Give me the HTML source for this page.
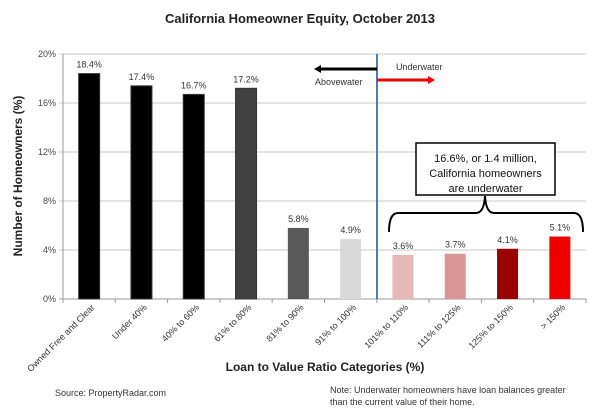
<!DOCTYPE html>
<html><head><meta charset="utf-8"><style>
body{margin:0;background:#fff}
svg{display:block;font-family:"Liberation Sans",sans-serif}
</style></head><body>
<svg id="c" width="600" height="408">
<text x="300" y="23" text-anchor="middle" font-size="13" font-weight="bold" fill="#222">California Homeowner Equity, October 2013</text>
<g id="grid"></g><g id="bars"></g><g id="xl"></g>
<text transform="translate(22,176) rotate(-90)" text-anchor="middle" font-size="12" font-weight="bold" fill="#222">Number of Homeowners (%)</text>
<text x="325" y="371" text-anchor="middle" font-size="12" font-weight="bold" fill="#222">Loan to Value Ratio Categories (%)</text>
<text x="55" y="396" font-size="9" fill="#333">Source: PropertyRadar.com</text>
<text x="330" y="393" font-size="9" fill="#333"><tspan x="330">Note: Underwater homeowners have loan balances greater</tspan><tspan x="330" dy="12">than the current value of their home.</tspan></text>
<line x1="377" y1="54" x2="377" y2="299" stroke="#4a7ebb" stroke-width="2"/>
<g><line x1="377" y1="69" x2="320" y2="69" stroke="#000" stroke-width="3"/><polygon points="314,69 321,65 321,73" fill="#000"/></g>
<text x="315" y="85" font-size="9" fill="#333">Abovewater</text>
<text x="396" y="70" font-size="9" fill="#333">Underwater</text>
<g><line x1="377" y1="80" x2="428" y2="80" stroke="#e00" stroke-width="3"/><polygon points="435,80 428,76 428,84" fill="#e00"/></g>
<rect x="416" y="143" width="139" height="52" fill="#fff" stroke="#000" stroke-width="1.5"/>
<text x="485.5" y="162" text-anchor="middle" font-size="11" fill="#111"><tspan x="485.5">16.6%, or 1.4 million,</tspan><tspan x="485.5" dy="15">California homeowners</tspan><tspan x="485.5" dy="15">are underwater</tspan></text>
<path d="M389,232 Q389,213 398,213 L476,213 Q484,213 485,196 Q486,213 494,213 L574,213 Q583,213 583,232" fill="none" stroke="#000" stroke-width="2"/>
</svg>
<script>
const categories=["Owned Free and Clear","Under 40%","40% to 60%","61% to 80%","81% to 90%","91% to 100%","101% to 110%","111% to 125%","125% to 150%","> 150%"];
const values=[18.4,17.4,16.7,17.2,5.8,4.9,3.6,3.7,4.1,5.1];
const valueLabels=["18.4%","17.4%","16.7%","17.2%","5.8%","4.9%","3.6%","3.7%","4.1%","5.1%"];
const yTicks=[0,4,8,12,16,20];
const yTickLabels=["0%","4%","8%","12%","16%","20%"];
const colors=["#000","#000","#000","#404040","#595959","#d9d9d9","#e6b9b8","#d99694","#990000","#ee0000"];
const NS="http://www.w3.org/2000/svg";
const L=63,R=586,T=54,B=299,yMax=20;
const y=v=>B-(v/yMax)*(B-T);
const bw=(R-L)/categories.length;
const xc=i=>L+bw*(i+0.5);
function mk(tag,at,parent){const e=document.createElementNS(NS,tag);for(const k in at)e.setAttribute(k,at[k]);document.getElementById(parent).appendChild(e);return e;}
yTicks.forEach((t,i)=>{
 const g=mk("line",{x1:L-4,x2:R,y1:y(t),y2:y(t),stroke:t===0?"#999":"#c8c8c8","stroke-width":1},"grid");
 
 
 const tx=mk("text",{x:L-7,y:y(t)+3,"text-anchor":"end","font-size":9,fill:"#444"},"grid");
 tx.textContent=yTickLabels[i];
 
 
});
mk("line",{x1:L,x2:L,y1:T,y2:B,stroke:"#999"},"grid");
for(let i=0;i<=categories.length;i++){mk("line",{x1:L+bw*i,x2:L+bw*i,y1:B,y2:B+4,stroke:"#999"},"grid");}
values.forEach((v,i)=>{
 const r=mk("rect",{x:xc(i)-10.5,y:y(v),width:21,height:B-y(v),fill:colors[i],stroke:i<4?"#333":"none"},"bars");
 
 
 const t=mk("text",{x:xc(i),y:y(v)-6,"text-anchor":"middle","font-size":9,fill:"#333"},"bars");
 t.textContent=valueLabels[i];
 
 
});
categories.forEach((c,i)=>{
 const t=mk("text",{transform:`translate(${xc(i)+6},${B+9}) rotate(-45)`,"text-anchor":"end","font-size":9,fill:"#333"},"xl");
 t.textContent=c;
 
 
});
</script>
</body></html>
